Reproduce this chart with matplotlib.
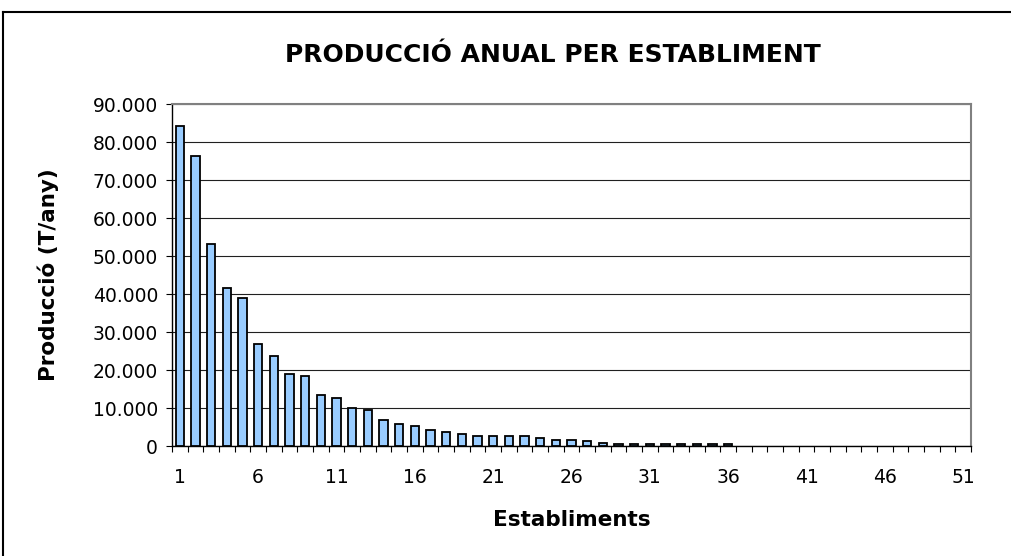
import numpy as np
import matplotlib.pyplot as plt
from matplotlib.lines import Line2D

# produccio anual (T/any) per establiment, ordenada de major a menor
establiments = list(range(1, 52))
produccio = [84300, 76300, 53200, 41500, 39000, 26900, 23700, 19000, 18500, 13300,
             12700, 10100, 9500, 6900, 5900, 5300, 4300, 3800, 3200, 2700,
             2700, 2700, 2700, 2200, 1700, 1700, 1200, 700, 500, 500,
             500, 450, 450, 450, 400, 400, 0, 0, 0, 0,
             0, 0, 0, 0, 0, 0, 0, 0, 0, 0, 0]
y_ticks = np.arange(0, 90001, 10000)
x_labels = [1, 6, 11, 16, 21, 26, 31, 36, 41, 46, 51]

plt.rcParams['font.family'] = ['DejaVu Sans']

fig = plt.figure(figsize=(10.11, 5.56), dpi=100)
ax = fig.add_axes([172 / 1011, 110 / 556, 799 / 1011, 342 / 556])

# els establiments sense produccio no es dibuixen (sense vora)
vores = [1.3 if v > 0 else 0 for v in produccio]
ax.bar(establiments, produccio, width=0.55, color='#99CCFF',
       edgecolor='black', linewidth=vores, zorder=3)

ax.set_xlim(0.5, 51.5)
ax.set_ylim(0, 90000)
ax.set_yticks(y_ticks)
ax.set_yticklabels([f"{v:,}".replace(",", ".") for v in y_ticks], fontsize=13.5)
ax.yaxis.grid(True, color='#202020', linewidth=0.8, zorder=0)

# etiquetes cada 5 establiments, marques entre categories
ax.set_xticks(x_labels)
ax.set_xticklabels([str(v) for v in x_labels], fontsize=13.5)
ax.tick_params(axis='x', length=0, pad=16)
ax.set_xticks(np.arange(0.5, 52, 1), minor=True)
ax.tick_params(axis='x', which='minor', length=4, width=0.8, direction='out')
ax.tick_params(axis='y', length=4, width=0.8, direction='out', pad=6)

for side in ['top', 'right']:
    ax.spines[side].set_color('#808080')
    ax.spines[side].set_linewidth(1.5)
ax.spines['left'].set_linewidth(1.0)
ax.spines['bottom'].set_linewidth(1.0)

ax.set_xlabel('Establiments', fontsize=15.5, fontweight='bold', va='center')
ax.xaxis.set_label_coords(0.5, -0.216)
ax.set_ylabel('Producció (T/any)', fontsize=15.5, fontweight='bold', va='center')
ax.yaxis.set_label_coords(-0.155, 0.5)
fig.text(0.547, 0.901, 'PRODUCCIÓ ANUAL PER ESTABLIMENT', ha='center', va='center',
         fontsize=18, fontweight='bold')

# marc exterior del grafic
fig.add_artist(Line2D([3 / 1011, 1], [1 - 12 / 556, 1 - 12 / 556],
                      color='black', linewidth=1.5))
fig.add_artist(Line2D([3 / 1011, 3 / 1011], [0, 1 - 12 / 556],
                      color='black', linewidth=1.5))

fig.savefig('out.png', dpi=100)
